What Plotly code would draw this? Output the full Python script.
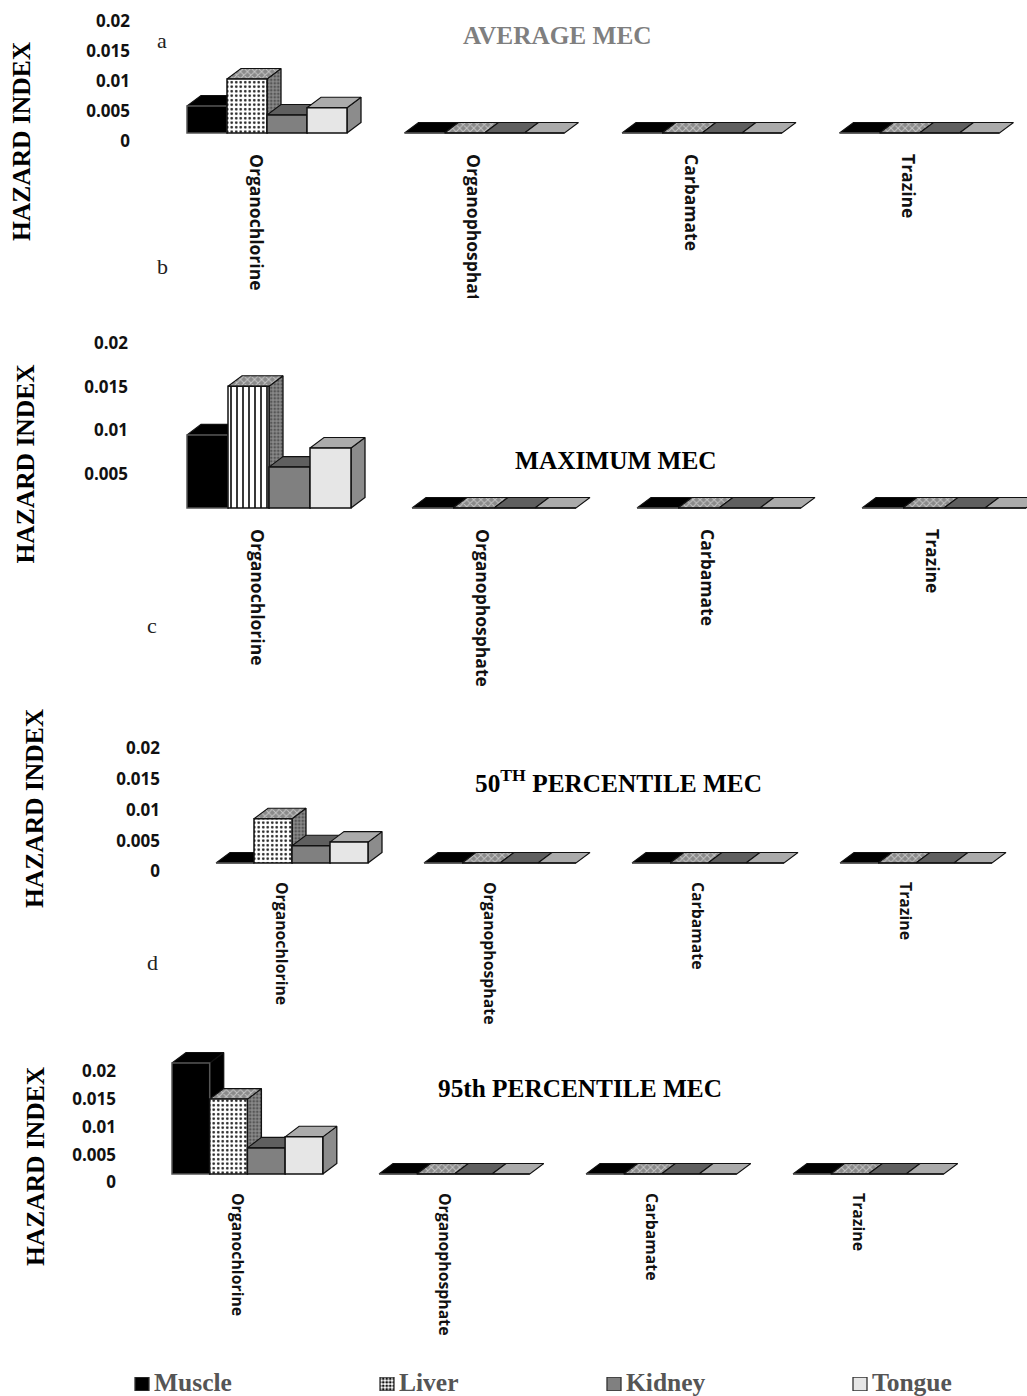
import plotly.graph_objects as go

W, H = 1027, 1396

categories = ["Organochlorine", "Organophosphate", "Carbamate", "Trazine"]
tissues = ["Muscle", "Liver", "Kidney", "Tongue"]
tick_values = [0, 0.005, 0.01, 0.015, 0.02]

# Hazard index per pesticide class
average_muscle = [0.0045, 0, 0, 0]
average_liver = [0.009, 0, 0, 0]
average_kidney = [0.003, 0, 0, 0]
average_tongue = [0.0042, 0, 0, 0]

maximum_muscle = [0.0084, 0, 0, 0]
maximum_liver = [0.014, 0, 0, 0]
maximum_kidney = [0.0047, 0, 0, 0]
maximum_tongue = [0.0069, 0, 0, 0]

p50_muscle = [0, 0, 0, 0]
p50_liver = [0.0072, 0, 0, 0]
p50_kidney = [0.0028, 0, 0, 0]
p50_tongue = [0.0034, 0, 0, 0]

p95_muscle = [0.02, 0, 0, 0]
p95_liver = [0.0135, 0, 0, 0]
p95_kidney = [0.0047, 0, 0, 0]
p95_tongue = [0.0067, 0, 0, 0]

# Pixel geometry of each panel: baseline, scale (px per 0.005), cluster layout
panels = [
    dict(series=[average_muscle, average_liver, average_kidney, average_tongue],
         baseline=133, scale=30.0, drop=8.5, top=8, bottom=155, x0=187, step=217.5, bar=40,
         tick_edge=130, ticks=tick_values, font=17.5, pat=".", shift=11.5, standoff=-2),
    dict(series=[maximum_muscle, maximum_liver, maximum_kidney, maximum_tongue],
         baseline=508, scale=43.5, drop=9.5, top=330, bottom=530, x0=187, step=225, bar=41,
         tick_edge=128, ticks=tick_values[1:], font=17.5, pat="|", shift=12, standoff=-2),
    dict(series=[p50_muscle, p50_liver, p50_kidney, p50_tongue],
         baseline=863, scale=30.75, drop=8.5, top=735, bottom=885, x0=216, step=208, bar=38,
         tick_edge=160, ticks=tick_values, font=15.8, pat=".", shift=11, standoff=-4),
    dict(series=[p95_muscle, p95_liver, p95_kidney, p95_tongue],
         baseline=1174, scale=27.75, drop=8.5, top=1040, bottom=1196, x0=172, step=207, bar=37.7,
         tick_edge=116, ticks=tick_values, font=15.8, pat=".", shift=10.5, standoff=-4),
]

DEPTH_X, DEPTH_Y = 14, 10.5
LINE = "#111111"

front_colors = ["#000000", "#ffffff", "#808080", "#e6e6e6"]
top_colors = ["#000000", "#a6a6a6", "#5f5f5f", "#ababab"]
side_colors = ["#000000", "#8a8a8a", "#5f5f5f", "#8c8c8c"]

sans = "Open Sans"
serif = "Liberation Serif"

fig = go.Figure()
layout = dict(
    width=W, height=H, margin=dict(l=0, r=0, t=0, b=0), autosize=False,
    paper_bgcolor="white", plot_bgcolor="rgba(0,0,0,0)", showlegend=False,
    barmode="overlay", hovermode=False,
)


def ydom(top, bottom):
    return [(H - bottom) / H, (H - top) / H]


def axis_key(kind, n):
    return f"{kind}axis" if n == 1 else f"{kind}axis{n}"


def axis_ref(kind, n):
    return kind if n == 1 else f"{kind}{n}"


for i, p in enumerate(panels):
    main, over = i + 1, i + 5
    step = p["step"]
    unit = 0.005 / p["scale"]
    w = p["bar"] / step
    dx = DEPTH_X / step
    dy = DEPTH_Y * unit
    xr = [-p["x0"] / step, (W - p["x0"]) / step]
    yr = [(p["baseline"] - p["bottom"]) * unit, (p["baseline"] - p["top"]) * unit]
    dom = ydom(p["top"], p["bottom"])

    layout[axis_key("x", main)] = dict(
        domain=[0, 1], range=xr, anchor=axis_ref("y", main), showgrid=False, zeroline=False,
        showline=False, ticks="", tickmode="array",
        tickvals=[c + 2 * w - p["shift"] / step for c in range(len(categories))],
        ticktext=categories, tickangle=90, ticklabelstandoff=p["standoff"],
        tickfont=dict(family=sans, size=p["font"], color="#111111", weight=700),
    )
    layout[axis_key("y", main)] = dict(
        domain=dom, range=yr, anchor="free", position=p["tick_edge"] / W, side="left",
        showgrid=False, zeroline=False, showline=False, ticks="", tickmode="array",
        tickvals=[v - p["drop"] * unit for v in p["ticks"]],
        ticktext=[f"{v:g}" for v in p["ticks"]],
        tickfont=dict(family=sans, size=17, color="#111111", weight=700),
    )
    layout[axis_key("x", over)] = dict(
        domain=[0, 1], range=xr, overlaying=axis_ref("x", main), anchor=axis_ref("y", over), visible=False,
    )
    layout[axis_key("y", over)] = dict(
        domain=dom, range=yr, overlaying=axis_ref("y", main), anchor=axis_ref("x", over), visible=False,
    )

    # Side and top faces sit on the base axes, so the front faces cover them
    for t, values in enumerate(p["series"]):
        side_x, side_y, top_x, top_y = [], [], [], []
        for c, v in enumerate(values):
            x1 = c + t * w
            x2 = x1 + w
            top_x += [x1, x2, x2 + dx, x1 + dx, x1, None]
            top_y += [v, v, v + dy, v + dy, v, None]
            if v > 0:
                side_x += [x2, x2 + dx, x2 + dx, x2, x2, None]
                side_y += [0, dy, v + dy, v, 0, None]
        pattern_side = dict(shape=".", size=3.5, solidity=0.45, fgcolor="#222222", bgcolor=side_colors[t])
        pattern_top = dict(shape="x", size=5, solidity=0.35, fgcolor="#ffffff", bgcolor="#8a8a8a")
        if side_x:
            fig.add_trace(go.Scatter(
                x=side_x, y=side_y, mode="lines", fill="toself", fillcolor=side_colors[t],
                fillpattern=pattern_side if t == 1 else None,
                line=dict(color=LINE, width=1.3), xaxis=axis_ref("x", main), yaxis=axis_ref("y", main),
            ))
        fig.add_trace(go.Scatter(
            x=top_x, y=top_y, mode="lines", fill="toself", fillcolor=top_colors[t],
            fillpattern=pattern_top if t == 1 else None,
            line=dict(color=LINE, width=1.1), xaxis=axis_ref("x", main), yaxis=axis_ref("y", main),
        ))

    # Front faces
    for t, values in enumerate(p["series"]):
        marker = dict(color=front_colors[t], line=dict(color=LINE if t else "#555555", width=1.5))
        if t == 1:
            if p["pat"] == "|":
                fill = dict(shape="|", size=6, solidity=0.3)
            else:
                fill = dict(shape=".", size=4.5, solidity=0.28)
            marker["pattern"] = dict(fgcolor="#222222", bgcolor="#ffffff", fillmode="replace", **fill)
        fig.add_trace(go.Bar(
            x=[c + (t + 0.5) * w for c in range(len(categories))], y=values, width=w,
            marker=marker, name=tissues[t],
            xaxis=axis_ref("x", over), yaxis=axis_ref("y", over),
        ))

# Legend row: swatches are small bars on their own strip of axes, names are labels beside them
swatch_x = [142, 387, 614, 860]
text_x = [152, 397, 624, 870]
layout["xaxis9"] = dict(domain=[0, 1], range=[0, W], anchor="y9", visible=False)
layout["yaxis9"] = dict(domain=ydom(1377, 1391), range=[0, 1], anchor="x9", visible=False)
for t, name in enumerate(tissues):
    marker = dict(color=front_colors[t], line=dict(color="#333333", width=1.3))
    if t == 1:
        marker["pattern"] = dict(shape=".", size=3.5, solidity=0.5, fgcolor="#111111", bgcolor="#ffffff",
                                 fillmode="replace")
    fig.add_trace(go.Bar(x=[swatch_x[t]], y=[1], width=14, marker=marker, name=name, xaxis="x9", yaxis="y9"))


def label(text, x, y, size, color="#000000", bold=True, angle=0, anchor="center"):
    return dict(
        text=f"<b>{text}</b>" if bold else text, x=x / W, y=1 - y / H, xref="paper", yref="paper",
        showarrow=False, xanchor=anchor, yanchor="middle", textangle=angle,
        font=dict(family=serif, size=size, color=color),
    )


annotations = [
    label("AVERAGE MEC", 557, 35, 25.3, color="#7f7f7f"),
    label("MAXIMUM MEC", 616, 460.4, 25.3),
    label("50<sup>TH</sup> PERCENTILE MEC", 618, 781.4, 25.3),
    label("95th PERCENTILE MEC", 580, 1088.4, 25.3),
    label("HAZARD INDEX", 22, 141, 25.5, angle=-90),
    label("HAZARD INDEX", 25, 463.5, 25.5, angle=-90),
    label("HAZARD INDEX", 35, 808, 25.5, angle=-90),
    label("HAZARD INDEX", 35, 1166, 25.5, angle=-90),
    label("a", 162, 41, 22, bold=False, color="#222222"),
    label("b", 162, 266.5, 22, bold=False, color="#222222"),
    label("c", 152, 625.4, 22, bold=False, color="#222222"),
    label("d", 152, 962.4, 22, bold=False, color="#222222"),
]
for t, name in enumerate(tissues):
    annotations.append(label(name, text_x[t], 1382, 25.5, color="#555555", anchor="left"))
layout["annotations"] = annotations

# The first panel's second category label runs off its frame and is cut short
layout["shapes"] = [dict(
    type="rect", xref="paper", yref="paper", layer="above", line=dict(width=0), fillcolor="white",
    x0=455 / W, x1=485 / W, y0=1 - 320 / H, y1=1 - 298 / H,
)]

fig.update_layout(**layout)
fig.write_html("out.html", config=dict(displayModeBar=False))
